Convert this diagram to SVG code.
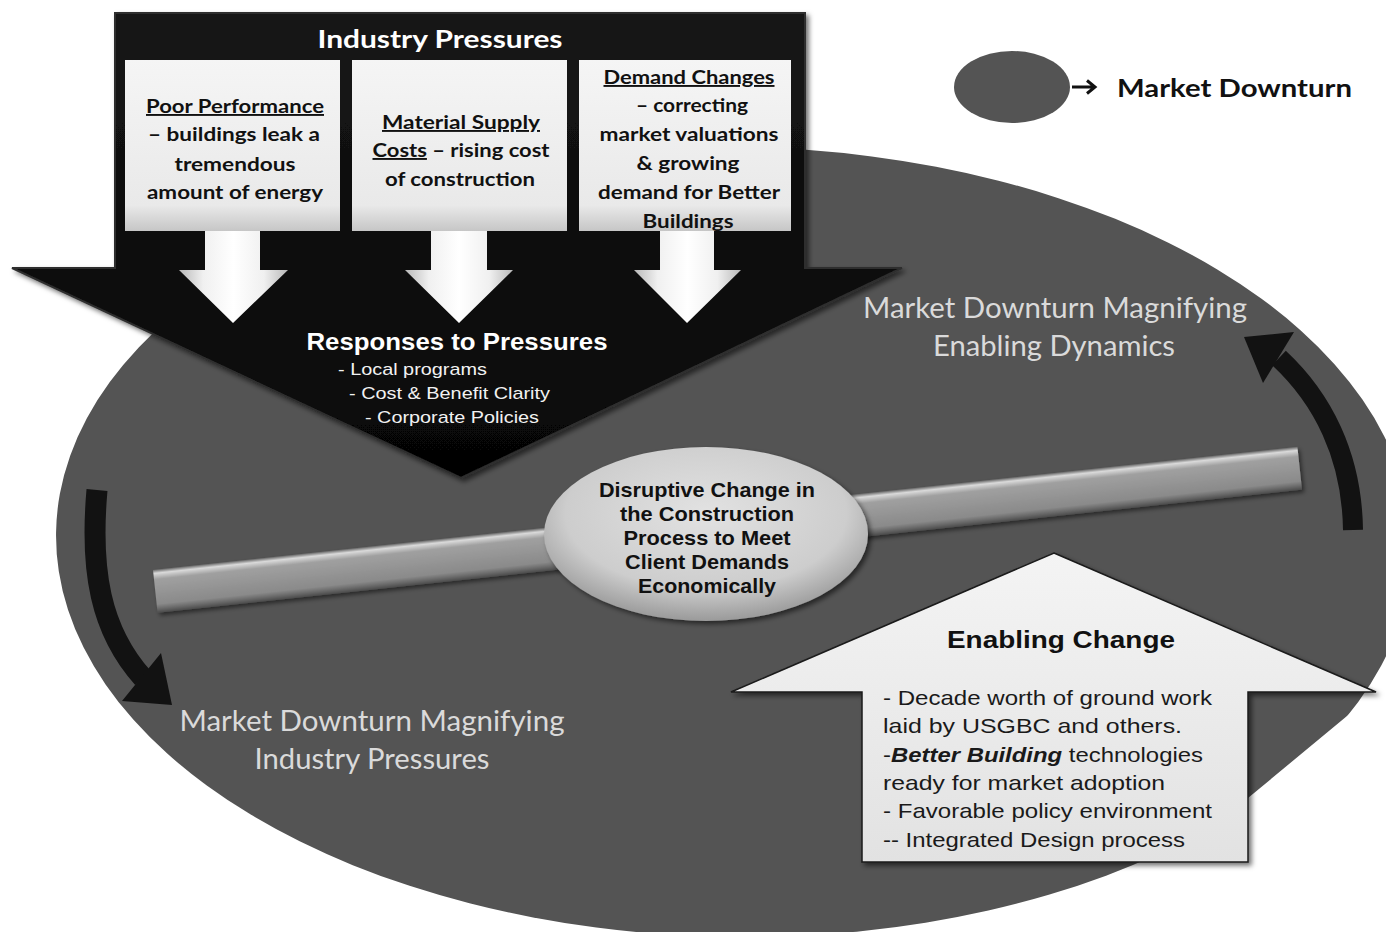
<svg xmlns="http://www.w3.org/2000/svg" width="1386" height="932" viewBox="0 0 1386 932">
<style>
.cal{font-family:Lato,"Open Sans","Liberation Sans",sans-serif}
.ari{font-family:"Liberation Sans",Arial,sans-serif}
.b{font-weight:bold}
.boxt{font-family:Lato,"Open Sans","Liberation Sans",sans-serif;font-weight:bold;font-size:19px;fill:#111;text-anchor:middle}
.lbl{font-family:Lato,"Open Sans","Liberation Sans",sans-serif;font-size:28px;fill:#dadada;text-anchor:middle}
.ctr{font-family:"Liberation Sans",Arial,sans-serif;font-weight:bold;font-size:21px;fill:#111;text-anchor:middle}
.en{font-family:"Liberation Sans",Arial,sans-serif;font-size:21px;fill:#1a1a1a}
.resp{font-family:"Liberation Sans",Arial,sans-serif;font-size:17px;fill:#f2f2f2}
.u{text-decoration:underline}
</style>
<defs>
<linearGradient id="boxG" x1="0" y1="0" x2="0" y2="1"><stop offset="0" stop-color="#f5f5f5"/><stop offset="0.85" stop-color="#e9e9e9"/><stop offset="1" stop-color="#c6c6c6"/></linearGradient>
<linearGradient id="wArrG" x1="0" y1="0" x2="1" y2="0"><stop offset="0" stop-color="#b8b8b8"/><stop offset="0.22" stop-color="#f0f0f0"/><stop offset="0.5" stop-color="#ffffff"/><stop offset="0.78" stop-color="#f0f0f0"/><stop offset="1" stop-color="#b8b8b8"/></linearGradient>
<linearGradient id="barG" x1="0" y1="0" x2="0" y2="1"><stop offset="0" stop-color="#6a6a6a"/><stop offset="0.08" stop-color="#dadada"/><stop offset="0.22" stop-color="#a0a0a0"/><stop offset="0.8" stop-color="#8a8a8a"/><stop offset="0.9" stop-color="#6c6c6c"/><stop offset="1" stop-color="#4c4c4c"/></linearGradient>
<radialGradient id="ctrG" cx="0.5" cy="0.38" r="0.62"><stop offset="0" stop-color="#e2e2e2"/><stop offset="0.7" stop-color="#cdcdcd"/><stop offset="1" stop-color="#9a9a9a"/></radialGradient>
<linearGradient id="enG" x1="0" y1="0" x2="0" y2="1"><stop offset="0" stop-color="#f4f4f4"/><stop offset="1" stop-color="#e2e2e2"/></linearGradient>
<linearGradient id="blkG" x1="0" y1="0" x2="0" y2="1"><stop offset="0" stop-color="#161616"/><stop offset="1" stop-color="#050505"/></linearGradient>
<filter id="sh" x="-10%" y="-10%" width="130%" height="130%"><feDropShadow dx="3" dy="3" stdDeviation="2.5" flood-color="#000" flood-opacity="0.55"/></filter>
<filter id="sh2" x="-10%" y="-10%" width="130%" height="130%"><feDropShadow dx="2" dy="3" stdDeviation="2" flood-color="#000" flood-opacity="0.5"/></filter>
</defs>
<rect x="0" y="0" width="1386" height="932" fill="#ffffff"/>

<g id="market-ellipse">
<ellipse cx="734" cy="542" rx="678" ry="395" transform="rotate(0.8 734 542)" fill="#545454"/>
<path d="M1386 664 V932 H1248 V798 L1376 692 L1381 680 Z" fill="#ffffff"/>
</g>

<g id="bar">
<rect x="153" y="570" width="1151" height="43" transform="rotate(-6.14 153 570)" fill="url(#barG)" filter="url(#sh2)"/>
</g>

<g id="label-enabling-dynamics">
<text class="lbl" x="1055" y="318" textLength="384" lengthAdjust="spacingAndGlyphs">Market Downturn Magnifying</text>
<text class="lbl" x="1054" y="356" textLength="242" lengthAdjust="spacingAndGlyphs">Enabling Dynamics</text>
</g>

<g id="label-industry-pressures">
<text class="lbl" x="372" y="731" textLength="385" lengthAdjust="spacingAndGlyphs">Market Downturn Magnifying</text>
<text class="lbl" x="372" y="769" textLength="235" lengthAdjust="spacingAndGlyphs">Industry Pressures</text>
</g>

<g id="disruptive-change">
<ellipse cx="706" cy="534" rx="162" ry="87" fill="url(#ctrG)" filter="url(#sh)"/>
<text class="ctr" x="707" y="497" textLength="216" lengthAdjust="spacingAndGlyphs">Disruptive Change in</text>
<text class="ctr" x="707" y="521" textLength="174" lengthAdjust="spacingAndGlyphs">the Construction</text>
<text class="ctr" x="707" y="545" textLength="167" lengthAdjust="spacingAndGlyphs">Process to Meet</text>
<text class="ctr" x="707" y="569" textLength="164" lengthAdjust="spacingAndGlyphs">Client Demands</text>
<text class="ctr" x="707" y="593" textLength="138" lengthAdjust="spacingAndGlyphs">Economically</text>
</g>

<g id="industry-pressures">
<path d="M115 13 H805 V268 H902 L461 478 L12 268 H115 Z" fill="url(#blkG)" stroke="#2e2e2e" stroke-width="2" filter="url(#sh)"/>
<text class="cal b" x="440" y="48" font-size="25" fill="#ffffff" text-anchor="middle" textLength="245" lengthAdjust="spacingAndGlyphs">Industry Pressures</text>
<rect x="125" y="60" width="215" height="171" fill="url(#boxG)"/>
<rect x="352" y="60" width="215" height="171" fill="url(#boxG)"/>
<rect x="579" y="60" width="212" height="171" fill="url(#boxG)"/>
<path d="M205 231 H260 V270 H288 L233 323 L179 270 H205 Z" fill="url(#wArrG)"/>
<path d="M431 231 H487 V270 H513 L459 323 L405 270 H431 Z" fill="url(#wArrG)"/>
<path d="M660 231 H714 V270 H741 L687 323 L634 270 H660 Z" fill="url(#wArrG)"/>
<text class="boxt u" x="235" y="113" textLength="178" lengthAdjust="spacingAndGlyphs">Poor Performance</text>
<text class="boxt" x="234" y="141" textLength="172" lengthAdjust="spacingAndGlyphs">– buildings leak a</text>
<text class="boxt" x="235" y="171" textLength="121" lengthAdjust="spacingAndGlyphs">tremendous</text>
<text class="boxt" x="235" y="199" textLength="176" lengthAdjust="spacingAndGlyphs">amount of energy</text>
<text class="boxt u" x="461" y="129" textLength="158" lengthAdjust="spacingAndGlyphs">Material Supply</text>
<text class="boxt" x="461" y="157" textLength="177" lengthAdjust="spacingAndGlyphs"><tspan class="u">Costs</tspan> – rising cost</text>
<text class="boxt" x="460" y="186" textLength="150" lengthAdjust="spacingAndGlyphs">of construction</text>
<text class="boxt u" x="689" y="84" textLength="171" lengthAdjust="spacingAndGlyphs">Demand Changes</text>
<text class="boxt" x="692" y="112" textLength="112" lengthAdjust="spacingAndGlyphs">– correcting</text>
<text class="boxt" x="689" y="141" textLength="179" lengthAdjust="spacingAndGlyphs">market valuations</text>
<text class="boxt" x="688" y="170" textLength="103" lengthAdjust="spacingAndGlyphs">&amp; growing</text>
<text class="boxt" x="689" y="199" textLength="182" lengthAdjust="spacingAndGlyphs">demand for Better</text>
<text class="boxt" x="688" y="228" textLength="91" lengthAdjust="spacingAndGlyphs">Buildings</text>
<text class="ari b" x="457" y="350" font-size="24" fill="#ffffff" text-anchor="middle" textLength="301" lengthAdjust="spacingAndGlyphs">Responses to Pressures</text>
<text class="resp" x="338" y="375" textLength="149" lengthAdjust="spacingAndGlyphs">- Local programs</text>
<text class="resp" x="349" y="399" textLength="201" lengthAdjust="spacingAndGlyphs">- Cost &amp; Benefit Clarity</text>
<text class="resp" x="365" y="423" textLength="174" lengthAdjust="spacingAndGlyphs">- Corporate Policies</text>
</g>

<g id="enabling-change">
<path d="M1054 553 L1376 692 H1248 V862 H862 V692 H731 Z" fill="url(#enG)" stroke="#1a1a1a" stroke-width="1.5" filter="url(#sh)"/>
<text class="ari b" x="1061" y="648" font-size="24" fill="#111" text-anchor="middle" textLength="228" lengthAdjust="spacingAndGlyphs">Enabling Change</text>
<text class="en" x="883" y="705" textLength="329" lengthAdjust="spacingAndGlyphs">- Decade worth of ground work</text>
<text class="en" x="883" y="733" textLength="299" lengthAdjust="spacingAndGlyphs">laid by USGBC and others.</text>
<text class="en" x="883" y="762" textLength="320" lengthAdjust="spacingAndGlyphs">-<tspan font-weight="bold" font-style="italic">Better Building</tspan> technologies</text>
<text class="en" x="883" y="790" textLength="282" lengthAdjust="spacingAndGlyphs">ready for market adoption</text>
<text class="en" x="883" y="818" textLength="329" lengthAdjust="spacingAndGlyphs">- Favorable policy environment</text>
<text class="en" x="883" y="847" textLength="302" lengthAdjust="spacingAndGlyphs">-- Integrated Design process</text>
</g>

<g id="legend">
<ellipse cx="1012" cy="87" rx="58" ry="36" fill="#545454"/>
<text class="cal b" x="1117" y="97" font-size="25" fill="#111" textLength="235" lengthAdjust="spacingAndGlyphs">Market Downturn</text>
</g>

<g id="connectors">
<path d="M1072 87 H1094 M1087 80.5 L1095 87 L1087 93.5" fill="none" stroke="#111" stroke-width="3"/>
<path d="M97 490 C 90 570, 100 630, 143 678" fill="none" stroke="#121212" stroke-width="21"/>
<path d="M122 701 L172 705 L161 653 Z" fill="#121212"/>
<path d="M1353 530 C 1352 455, 1322 398, 1279 358" fill="none" stroke="#121212" stroke-width="20"/>
<path d="M1244 337 L1294 332 L1263 383 Z" fill="#121212"/>
</g>
</svg>
